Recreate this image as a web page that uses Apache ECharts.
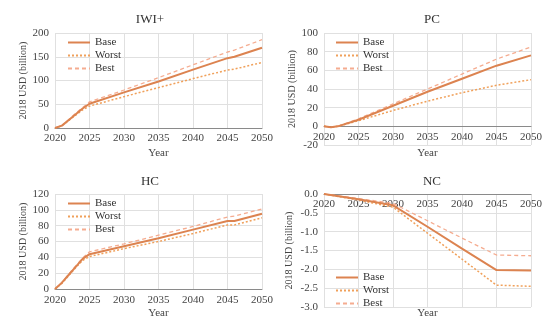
<!DOCTYPE html>
<html><head><meta charset="utf-8">
<script src="https://cdn.jsdelivr.net/npm/echarts@6/dist/echarts.min.js"></script>
<style>html,body{margin:0;padding:0;background:#fff}#c{width:550px;height:330px}</style>
</head><body><div id="c"></div>
<script>
// ---- data ----
const panelTitles = ['IWI+', 'PC', 'HC', 'NC'];
const seriesNames = ['Base', 'Worst', 'Best'];
const xTicks = [2020, 2025, 2030, 2035, 2040, 2045, 2050];

const iwiYears  = [2020, 2021, 2022, 2023, 2024, 2025, 2030, 2035, 2040, 2045, 2046, 2050];
const iwiBase   = [0, 5, 17, 29, 41, 51, 75, 98, 123, 147, 150, 169];
const iwiWorst  = [0, 5, 16, 27, 38, 46, 66, 85, 104, 122, 124, 138];
const iwiBest   = [0, 5, 18, 31, 43, 55, 80, 106, 133, 160, 164, 186];

const pcYears   = [2020, 2021, 2022, 2025, 2030, 2035, 2040, 2045, 2050];
const pcBase    = [0, -1, 0, 7, 22, 37, 51, 65, 76];
const pcWorst   = [0, -1, 0, 6, 17, 27, 36, 44, 50];
const pcBest    = [0, -1, 0, 8, 24, 40, 56, 72, 85];

const hcYears   = [2020, 2021, 2022, 2023, 2024, 2025, 2030, 2035, 2040, 2045, 2046, 2050];
const hcBase    = [0, 8, 18, 28, 38, 44, 54, 64, 75, 86, 86, 95];
const hcWorst   = [0, 7, 17, 27, 36, 41, 51, 60, 70, 81, 81, 90];
const hcBest    = [0, 8, 19, 29, 39, 47, 57, 68, 79, 91, 92, 101];

const ncYears   = [2020, 2025, 2030, 2035, 2040, 2045, 2050];
const ncBase    = [0, -0.14, -0.3, -0.87, -1.45, -2.02, -2.03];
const ncWorst   = [0, -0.16, -0.35, -1.04, -1.73, -2.42, -2.45];
const ncBest    = [0, -0.12, -0.25, -0.71, -1.17, -1.62, -1.64];

const yAxes = [
  {min: 0, max: 200, interval: 50},
  {min: -20, max: 100, interval: 20},
  {min: 0, max: 120, interval: 20},
  {min: -3, max: 0, interval: 0.5, dec: 1}
];

const panels = [
  {years: iwiYears, vals: [iwiBase, iwiWorst, iwiBest]},
  {years: pcYears, vals: [pcBase, pcWorst, pcBest]},
  {years: hcYears, vals: [hcBase, hcWorst, hcBest]},
  {years: ncYears, vals: [ncBase, ncWorst, ncBest]}
];

// ---- layout / style ----
const FONT = '"Liberation Serif", "DejaVu Serif", serif';
const colors = ['#DC8350', '#F0A05A', '#F5AC90'];
const lineTypes = ['solid', [2, 2], [4, 3]];
const widths = [2, 1.5, 1.3];
const grids = [
  {left: 55, right: 288, top: 33, bottom: 202},
  {left: 324, right: 19, top: 33, bottom: 185},
  {left: 55, right: 288, top: 194, bottom: 41},
  {left: 324, right: 19, top: 194, bottom: 23}
].map((g) => Object.assign({outerBoundsMode: 'none', containLabel: false}, g));
const titlePos = [{left: 145, top: 8}, {left: 427, top: 8}, {left: 145, top: 170}, {left: 427, top: 170}];
const legendPos = [{left: 62, top: 32}, {left: 330, top: 32}, {left: 62, top: 193}, {left: 330, top: 267}];
const labelMargins = [5, -13, 6, -108];
const nameGaps = [20, 3, 19, 1];

const option = {
  animation: false,
  title: panelTitles.map((t, i) => ({
    text: t, left: titlePos[i].left, top: titlePos[i].top, textAlign: 'center',
    textStyle: {fontFamily: FONT, fontSize: 13, fontWeight: 'normal', color: '#333'}
  })),
  grid: grids,
  legend: grids.map((g, i) => ({
    data: seriesNames.map((n) => ({name: n + '_' + i})),
    formatter: (n) => n.split('_')[0],
    orient: 'vertical', left: legendPos[i].left, top: legendPos[i].top,
    itemWidth: 22, itemHeight: 10, itemGap: 2,
    itemStyle: {opacity: 0},
    textStyle: {fontFamily: FONT, fontSize: 11, color: '#333'},
    selectedMode: false
  })),
  xAxis: grids.map((g, i) => ({
    gridIndex: i, type: 'value', min: 2020, max: 2050, interval: 5,
    name: 'Year', nameLocation: 'middle', nameMoveOverlap: false,
    nameGap: nameGaps[i],
    nameTextStyle: {fontFamily: FONT, fontSize: 11, color: '#444'},
    axisLine: {show: true, onZero: true, lineStyle: {color: '#8a8a8a', width: 1}},
    axisTick: {show: false},
    axisLabel: {fontFamily: FONT, fontSize: 11, color: '#444', margin: labelMargins[i], formatter: (v) => String(v)},
    splitLine: {show: true, lineStyle: {color: '#e0e0e0'}}
  })),
  yAxis: yAxes.map((a, i) => ({
    gridIndex: i, type: 'value', min: a.min, max: a.max, interval: a.interval,
    name: '2018 USD (billion)', nameLocation: 'middle', nameGap: i === 3 ? 30 : 27,
    nameMoveOverlap: false,
    nameTextStyle: {fontFamily: FONT, fontSize: 10, color: '#444'},
    axisLine: {show: false}, axisTick: {show: false},
    axisLabel: {fontFamily: FONT, fontSize: 11, color: '#444', margin: 6,
      formatter: (v) => a.dec ? v.toFixed(a.dec) : String(v)},
    splitLine: {show: true, lineStyle: {color: '#e0e0e0'}}
  })),
  series: []
};

panels.forEach((p, i) => {
  p.vals.forEach((vals, k) => {
    option.series.push({
      name: seriesNames[k] + '_' + i, type: 'line',
      xAxisIndex: i, yAxisIndex: i,
      data: p.years.map((y, j) => [y, vals[j]]),
      symbol: 'none', showSymbol: false, smooth: false,
      z: 10 - k,
      color: colors[k],
      lineStyle: {color: colors[k], width: widths[k], type: lineTypes[k]}
    });
  });
});

const chart = echarts.init(document.getElementById('c'), null, {renderer: 'canvas'});
chart.setOption(option);
</script>
</body></html>
